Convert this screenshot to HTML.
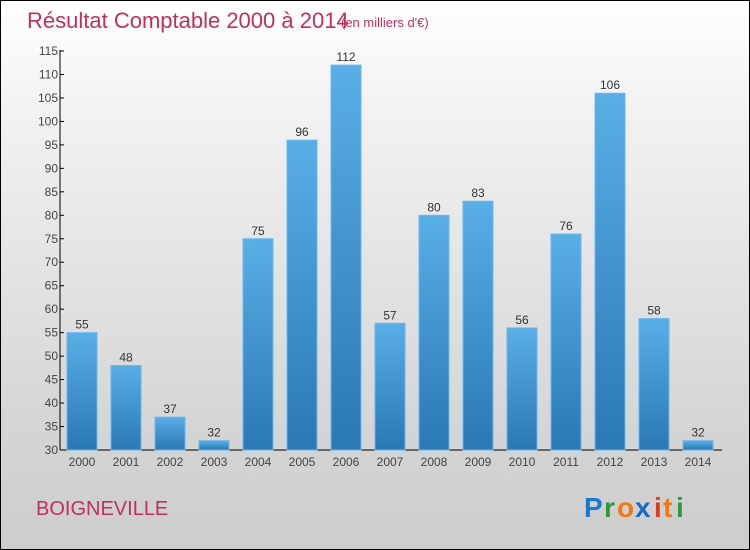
<!DOCTYPE html>
<html><head><meta charset="utf-8"><style>
body{margin:0}
#c{position:relative;width:748px;height:548px;border:1px solid #000;background:linear-gradient(#fff,#f2f2f2 20%,#d4d4d4 80%,#cdcdcd);overflow:hidden;font-family:"Liberation Sans",sans-serif}
</style></head><body>
<div id="c">
<svg width="748" height="548" style="position:absolute;left:0;top:0" id="svg">
<defs><linearGradient id="g" x1="0" y1="0" x2="0" y2="1"><stop offset="0" stop-color="#5aaee6"/><stop offset="1" stop-color="#2a78b4"/></linearGradient></defs>
<text x="26" y="27" font-size="22" fill="#c0305e">Résultat Comptable 2000 à 2014</text>
<text x="340" y="26" font-size="13" fill="#c0305e">(en milliers d'€)</text>
<text x="35" y="514" font-size="20" fill="#c0305e">BOIGNEVILLE</text>
<g font-size="28" font-weight="bold">
<text x="583" y="516" fill="#1a78d0">P</text><text x="603" y="516" fill="#2a9a3a">r</text><text x="616" y="516" fill="#f07a10">o</text><text x="634" y="516" fill="#1a6ac8">x</text><text x="653" y="516" fill="#e03a20">i</text><text x="662" y="516" fill="#f07a10">t</text><text x="675" y="516" fill="#2a9a3a">i</text>
</g>
<g id="plot"></g>
</svg>
</div>
<script>
const years=["2000","2001","2002","2003","2004","2005","2006","2007","2008","2009","2010","2011","2012","2013","2014"];
const values=[55,48,37,32,75,96,112,57,80,83,56,76,106,58,32];
const yTicks=[30,35,40,45,50,55,60,65,70,75,80,85,90,95,100,105,110,115];
const NS="http://www.w3.org/2000/svg";
const g=document.getElementById('plot');
const y=v=>449-(v-30)*(399/85);
const x=i=>81+i*44;
function mk(t,a){const e=document.createElementNS(NS,t);for(const k in a)e.setAttribute(k,a[k]);g.appendChild(e);return e;}
let ax=mk('line',{x1:59,y1:49,x2:59,y2:449,stroke:'#000'});


let bx=mk('line',{x1:59,y1:449,x2:721,y2:449,stroke:'#000'});


yTicks.forEach(v=>{
 let l=mk('line',{x1:59,x2:63,y1:y(v),y2:y(v),stroke:'#000'});
 
 
 let t=mk('text',{x:57,y:y(v)+4,'text-anchor':'end','font-size':12,fill:'#444'});
 t.textContent=v;
 
 
});
years.forEach((yr,i)=>{
 const v=values[i];
 let r=mk('rect',{x:x(i)-15,y:y(v),width:30,height:449-y(v),fill:'url(#g)',stroke:'#6ab8ee','stroke-width':1});
 
 
 let t=mk('text',{x:x(i),y:y(v)-4,'text-anchor':'middle','font-size':12,fill:'#333'});
 t.textContent=v;
 
 
 let xl=mk('text',{x:x(i),y:465,'text-anchor':'middle','font-size':12,fill:'#444'});
 xl.textContent=yr;
 
 
});
</script>
</body></html>
